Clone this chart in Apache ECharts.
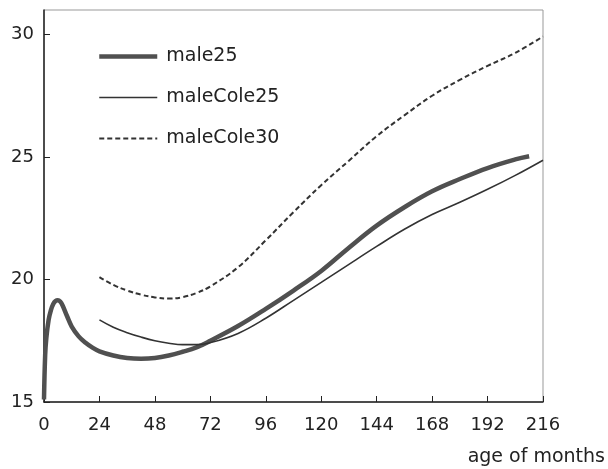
<!DOCTYPE html>
<html>
<head>
<meta charset="utf-8">
<script src="https://cdn.jsdelivr.net/npm/echarts@6/dist/echarts.min.js"></script>
<style>
  html, body { margin: 0; padding: 0; background: #fff; }
  #chart { width: 608px; height: 469px; }
</style>
</head>
<body>
<div id="chart"></div>
<script>
// ages (months) and BMI values
const male25Ages = [0, 0.5, 1, 2, 3, 4, 5, 6, 7, 8, 10, 12, 15, 18, 21, 24, 30, 36, 42, 48, 54, 60, 66, 72, 84, 96, 108, 120, 132, 144, 156, 168, 180, 192, 204, 210];
const male25Values = [15.1, 16.9, 17.6, 18.35, 18.75, 19.0, 19.12, 19.15, 19.1, 18.95, 18.5, 18.08, 17.68, 17.42, 17.22, 17.07, 16.9, 16.8, 16.77, 16.8, 16.9, 17.05, 17.23, 17.5, 18.1, 18.8, 19.55, 20.35, 21.3, 22.2, 22.95, 23.6, 24.1, 24.55, 24.9, 25.03];

const coleAges = [24, 30, 36, 42, 48, 54, 60, 66, 72, 84, 96, 108, 120, 132, 144, 156, 168, 180, 192, 204, 216];
const maleCole25Values = [18.35, 18.05, 17.83, 17.65, 17.5, 17.4, 17.34, 17.34, 17.42, 17.8, 18.42, 19.15, 19.88, 20.62, 21.35, 22.05, 22.65, 23.15, 23.68, 24.25, 24.87];
const maleCole30Values = [20.1, 19.78, 19.55, 19.38, 19.27, 19.22, 19.28, 19.45, 19.72, 20.5, 21.6, 22.75, 23.85, 24.85, 25.85, 26.7, 27.5, 28.15, 28.72, 29.25, 29.92];

const xTicks = [0, 24, 48, 72, 96, 120, 144, 168, 192, 216];
const yTicks = [15, 20, 25, 30];

function pairs(xs, ys) {
  return xs.map(function (x, i) { return [x, ys[i]]; });
}

const font = 'DejaVu Sans';
let chart = echarts.init(document.getElementById('chart'));
let option = {
  animation: false,
  grid: {
    left: 44,
    right: 64,
    top: 10,
    bottom: 67,
    show: true,
    borderColor: '#999',
    borderWidth: 1
  },
  legend: {
    orient: 'vertical',
    left: 92,
    top: 42,
    itemWidth: 58,
    itemHeight: 16,
    itemGap: 22,
    itemStyle: { opacity: 0 },
    data: [
      { name: 'male25', lineStyle: { width: 4.5, color: '#505050' } },
      { name: 'maleCole25', lineStyle: { width: 1.6, color: '#333' } },
      { name: 'maleCole30', lineStyle: { width: 2, color: '#333', type: [5, 3] } }
    ],
    textStyle: {
      fontFamily: font,
      fontSize: 19,
      color: '#222',
      padding: [0, 0, 0, 4]
    }
  },
  xAxis: {
    type: 'value',
    min: 0,
    max: 216,
    interval: 24,
    name: 'age of months',
    nameLocation: 'end',
    nameGap: 62,
    nameTextStyle: {
      fontFamily: font,
      fontSize: 19,
      color: '#222',
      align: 'right',
      verticalAlign: 'top',
      padding: [46, 0, 0, 0]
    },
    axisLine: { lineStyle: { color: '#222', width: 1.5 } },
    axisTick: { inside: true, length: 6, lineStyle: { color: '#222' } },
    axisLabel: {
      fontFamily: font,
      fontSize: 18,
      color: '#222',
      margin: 14,
      formatter: function (v) { return xTicks.indexOf(v) >= 0 ? String(v) : ''; }
    },
    splitLine: { show: false }
  },
  yAxis: {
    type: 'value',
    min: 15,
    max: 31,
    interval: 5,
    axisLine: { show: true, lineStyle: { color: '#222', width: 1.5 } },
    axisTick: { show: true, inside: true, length: 6, lineStyle: { color: '#222' } },
    axisLabel: {
      fontFamily: font,
      fontSize: 18,
      color: '#222',
      margin: 10,
      showMaxLabel: false,
      formatter: function (v) { return yTicks.indexOf(v) >= 0 ? String(v) : ''; }
    },
    splitLine: { show: false }
  },
  series: [
    {
      name: 'male25',
      type: 'line',
      showSymbol: false,
      symbol: 'none',
      smooth: 0.4,
      data: pairs(male25Ages, male25Values),
      lineStyle: { color: '#505050', width: 4.5 },
      itemStyle: { color: '#505050' }
    },
    {
      name: 'maleCole25',
      type: 'line',
      showSymbol: false,
      symbol: 'none',
      smooth: 0.4,
      data: pairs(coleAges, maleCole25Values),
      lineStyle: { color: '#333', width: 1.6 },
      itemStyle: { color: '#333' }
    },
    {
      name: 'maleCole30',
      type: 'line',
      showSymbol: false,
      symbol: 'none',
      smooth: 0.4,
      data: pairs(coleAges, maleCole30Values),
      lineStyle: { color: '#333', width: 2, type: [5, 3] },
      itemStyle: { color: '#333' }
    }
  ]
};
chart.setOption(option);
</script>
</body>
</html>
